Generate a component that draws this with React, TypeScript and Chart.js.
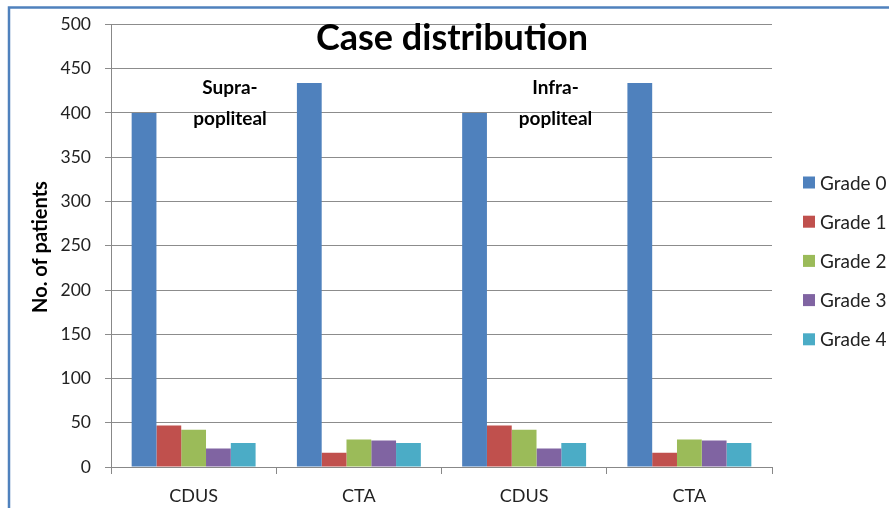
import React, { useEffect, useRef } from "react";
import { Chart, registerables } from "chart.js";

Chart.register(...registerables);

const categories = ["CDUS", "CTA", "CDUS", "CTA"];
const seriesNames = ["Grade 0", "Grade 1", "Grade 2", "Grade 3", "Grade 4"];
const grade0 = [400, 434, 400, 434];
const grade1 = [47, 16, 47, 16];
const grade2 = [42, 31, 42, 31];
const grade3 = [21, 30, 21, 30];
const grade4 = [27, 27, 27, 27];
const seriesColors = ["#4f81bd", "#c0504d", "#9bbb59", "#8064a2", "#4bacc6"];
const titleText = "Case distribution";
const yTitle = "No. of patients";
// annotation positions in category units (0 = left edge of the first category)
const groupNotes = [
  { lines: ["Supra-", "popliteal"], at: 0.72, value: 434 },
  { lines: ["Infra-", "popliteal"], at: 2.69, value: 434 },
];

const FONT = "Lato, 'Open Sans', sans-serif";

const overlayPlugin = {
  id: "overlay",
  afterDraw(chart: any) {
    const ctx = chart.ctx;
    const { chartArea } = chart;
    const ys = chart.scales.y;
    ctx.save();
    // outer border
    ctx.strokeStyle = "#4f81bd";
    ctx.lineWidth = 2.5;
    ctx.beginPath();
    ctx.moveTo(9, 520);
    ctx.lineTo(9, 7.5);
    ctx.lineTo(900, 7.5);
    ctx.stroke();

    // title
    ctx.fillStyle = "#000";
    ctx.font = `bold 36px ${FONT}`;
    ctx.textAlign = "center";
    ctx.textBaseline = "middle";
    ctx.fillText(titleText, 452, 38);

    // group notes
    ctx.font = `bold 19px ${FONT}`;
    const step = (chartArea.right - chartArea.left) / categories.length;
    groupNotes.forEach((n) => {
      const cx = chartArea.left + step * n.at;
      const y0 = ys.getPixelForValue(n.value) + 5;
      n.lines.forEach((l, i) => {
        ctx.fillText(l, cx, y0 + i * 31);
      });
    });

    // y title
    ctx.save();
    ctx.translate(41, 247);
    ctx.rotate(-Math.PI / 2);
    ctx.font = `bold 20px ${FONT}`;
    ctx.fillText(yTitle, 0, 0);
    ctx.restore();

    // legend
    ctx.font = `19px ${FONT}`;
    ctx.textAlign = "left";
    ctx.textBaseline = "middle";
    chart.data.datasets.forEach((ds: any, i: number) => {
      const y = 182.5 + i * 39.2;
      ctx.fillStyle = ds.backgroundColor;
      ctx.fillRect(803, y - 6, 12, 12);
      ctx.fillStyle = "#222";
      ctx.fillText(ds.label, 820, y + 1);
    });
    ctx.restore();
  },
};

export default function App() {
  const ref = useRef<HTMLCanvasElement>(null);
  useEffect(() => {
    document.body.style.margin = "0";
    const values = [grade0, grade1, grade2, grade3, grade4];
    const chart = new Chart(ref.current!, {
      type: "bar",
      data: {
        labels: categories,
        datasets: seriesNames.map((name, i) => ({
          label: name,
          data: values[i],
          backgroundColor: seriesColors[i],
          borderWidth: 0,
          categoryPercentage: 0.75,
          barPercentage: 1,
        })),
      },
      options: {
        animation: false,
        responsive: false,
        maintainAspectRatio: false,
        layout: { padding: { left: 0, top: 24, right: 117, bottom: 0 } },
        plugins: {
          legend: { display: false },
          title: { display: false },
          tooltip: { enabled: false },
        },
        scales: {
          x: {
            afterFit(scale: any) {
              scale.height = 41;
            },
            grid: {
              offset: true,
              drawOnChartArea: false,
              drawTicks: true,
              tickLength: 7,
              color: "#888",
            },
            border: { color: "#888", width: 1 },
            ticks: {
              color: "#222",
              font: { family: FONT, size: 18 },
              padding: 11,
            },
          },
          y: {
            min: 0,
            max: 500,
            afterFit(scale: any) {
              scale.width = 111;
            },
            grid: {
              color: "#8c8c8c",
              lineWidth: 1,
              drawTicks: true,
              tickLength: 6,
            },
            border: { color: "#888", width: 1 },
            ticks: {
              stepSize: 50,
              color: "#222",
              font: { family: FONT, size: 17.5 },
              padding: 14,
            },
          },
        },
      },
      plugins: [overlayPlugin],
    });
    return () => chart.destroy();
  }, []);
  return (
    <div style={{ width: 889, height: 508, position: "relative", background: "#fff" }}>
      <canvas ref={ref} width={889} height={508} style={{ display: "block" }} />
    </div>
  );
}
